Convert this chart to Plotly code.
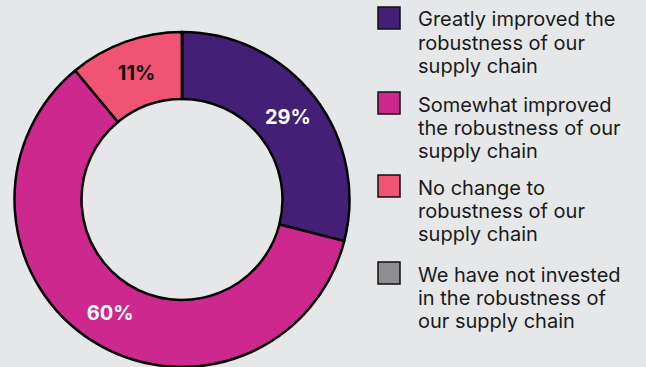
import plotly.graph_objects as go

# Survey responses: impact of investment on supply chain robustness
categories = [
    ["Greatly improved the", "robustness of our", "supply chain"],
    ["Somewhat improved", "the robustness of our", "supply chain"],
    ["No change to", "robustness of our", "supply chain"],
    ["We have not invested", "in the robustness of", "our supply chain"],
]
shares = [29, 60, 11, 0]
colors = ["#441f76", "#cc288e", "#f05374", "#8e8e91"]
label_colors = ["#ffffff", "#ffffff", "#111111", "#111111"]

W, H = 646, 367
BG = "#e6e7e9"
FONT = "Inter"

slice_text = [f"<b>{v}%</b>" if v > 0 else "" for v in shares]

fig = go.Figure()
fig.add_trace(go.Pie(
    values=shares,
    labels=[" ".join(c) for c in categories],
    text=slice_text,
    textinfo="text",
    textposition="inside",
    insidetextorientation="horizontal",
    insidetextfont=dict(family=FONT, size=20, color=label_colors),
    hole=0.6,
    sort=False,
    direction="clockwise",
    rotation=0,
    marker=dict(colors=colors, line=dict(color="#000000", width=2.5)),
    domain=dict(x=[14 / W, 350 / W], y=[0, 335 / H]),
    showlegend=False,
    hoverinfo="label+percent",
))

# Custom legend: bordered swatches with wrapped labels, one annotation per line
legend_tops = [7, 92, 175, 262]
line_gap = 23.3
shapes, annotations = [], []
for lines, col, top in zip(categories, colors, legend_tops):
    shapes.append(dict(
        type="rect", xref="paper", yref="paper",
        x0=378 / W, x1=400 / W, y0=1 - (top + 22) / H, y1=1 - top / H,
        fillcolor=col, line=dict(color="#111111", width=1.5),
    ))
    for i, line in enumerate(lines):
        yc = top + 12.5 + i * line_gap
        annotations.append(dict(
            xref="paper", yref="paper", x=416 / W, y=1 - yc / H,
            xanchor="left", yanchor="middle", align="left", showarrow=False,
            text=line, font=dict(family=FONT, size=20, color="#1a1a1a"),
        ))

fig.update_layout(
    width=W, height=H,
    margin=dict(l=0, r=0, t=0, b=0),
    paper_bgcolor=BG, plot_bgcolor=BG,
    shapes=shapes, annotations=annotations,
)

fig.write_html("out.html")
